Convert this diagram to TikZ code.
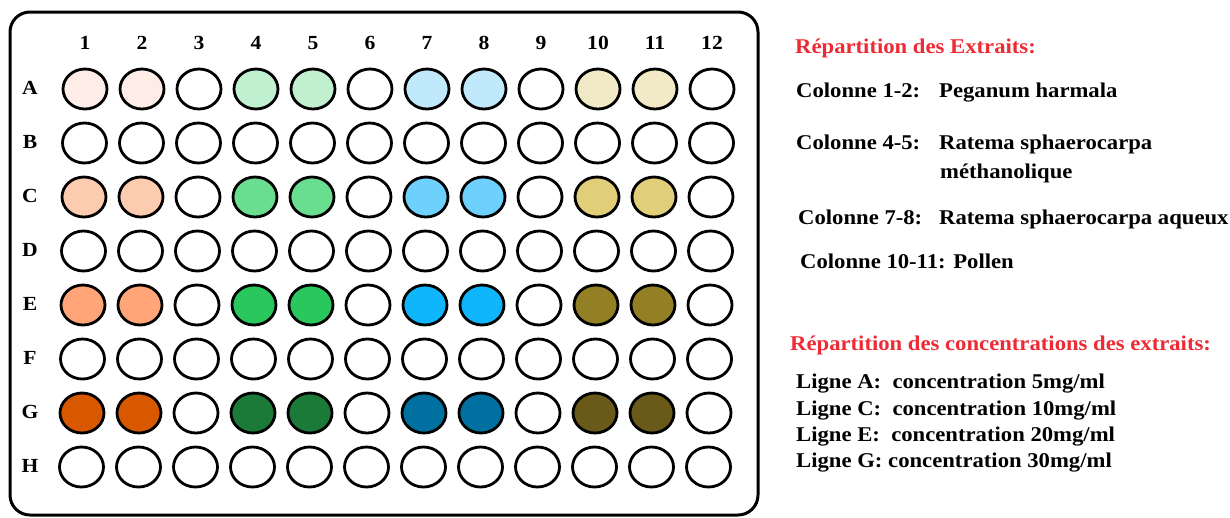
\documentclass[tikz,border=0pt]{standalone}
\usepackage{fontspec}
\setmainfont{Liberation Serif}[FakeStretch=1.08]
\usetikzlibrary{shapes.geometric}

% fill colours: group letter (P, G, B, O, N) and concentration level (0 = empty)
\definecolor{P1}{HTML}{FDEDE6}\definecolor{P2}{HTML}{FDCBB0}
\definecolor{P3}{HTML}{FFA577}\definecolor{P4}{HTML}{D85800}
\definecolor{G1}{HTML}{C0F0D0}\definecolor{G2}{HTML}{6ADE90}
\definecolor{G3}{HTML}{2AC85C}\definecolor{G4}{HTML}{1C7A38}
\definecolor{B1}{HTML}{C0EAFC}\definecolor{B2}{HTML}{6ED0FC}
\definecolor{B3}{HTML}{10B6FC}\definecolor{B4}{HTML}{0070A0}
\definecolor{O1}{HTML}{F2EAC6}\definecolor{O2}{HTML}{E0CE78}
\definecolor{O3}{HTML}{948024}\definecolor{O4}{HTML}{6A5A1A}
\colorlet{P0}{white}\colorlet{G0}{white}\colorlet{B0}{white}\colorlet{O0}{white}
\colorlet{N0}{white}\colorlet{N1}{white}\colorlet{N2}{white}\colorlet{N3}{white}\colorlet{N4}{white}
\definecolor{titlered}{HTML}{EE2A34}

\tikzset{
  well/.style={ellipse, draw=black, line width=2.8pt, minimum width=44pt,
    minimum height=40pt, inner sep=0pt},
  platelbl/.style={font=\bfseries\fontsize{20}{22}\selectfont, inner sep=0pt},
  legend/.style={font=\bfseries\fontsize{21}{24}\selectfont, anchor=base west, inner sep=0pt},
  legendtitle/.style={legend, text=titlered},
}

\begin{document}
\begin{tikzpicture}[x=1pt, y=-1pt]
\useasboundingbox (0,0) rectangle (1230,517);

% plate outline
\draw[line width=3pt, rounded corners=20pt] (10,12) rectangle (758,515);

% column numbers
\foreach \j in {1,...,12}
  \node[platelbl] (col\j) at ({85+57*(\j-1)}, 43) {\j};

% rows of wells
\foreach \r/\lvl [count=\i from 0] in {A/1,B/0,C/2,D/0,E/3,F/0,G/4,H/0}{
  \node[platelbl] (row\r) at (30, {88+54*\i}) {\r};
  \foreach \grp [count=\j] in {P,P,N,G,G,N,B,B,N,O,O,N}
    \node[well, fill=\grp\lvl] (w\r\j) at ({85+57*(\j-1)-0.5*\i}, {89+54*\i}) {};
}

% legend: extracts
\node[legendtitle] (t1) at (795,53) {Répartition des Extraits:};
\node[legend] (c12) at (796,97) {Colonne 1-2:};
\node[legend] (e12) at (939,97) {Peganum harmala};
\node[legend] (c45) at (796,149) {Colonne 4-5:};
\node[legend] (e45) at (939,149) {Ratema sphaerocarpa};
\node[legend] (e45b) at (940,178) {méthanolique};
\node[legend] (c78) at (798,224) {Colonne 7-8:};
\node[legend] (e78) at (939,224) {Ratema sphaerocarpa aqueux};
\node[legend] (c1011) at (800,268) {Colonne 10-11: Pollen};

% legend: concentrations
\node[legendtitle] (t2) at (790,350) {Répartition des concentrations des extraits:};
\node[legend] (lA) at (796,388) {Ligne A:\ \ concentration 5mg/ml};
\node[legend] (lC) at (796,415) {Ligne C:\ \ concentration 10mg/ml};
\node[legend] (lE) at (796,441) {Ligne E:\ \ concentration 20mg/ml};
\node[legend] (lG) at (796,467) {Ligne G: concentration 30mg/ml};
\end{tikzpicture}
\end{document}
